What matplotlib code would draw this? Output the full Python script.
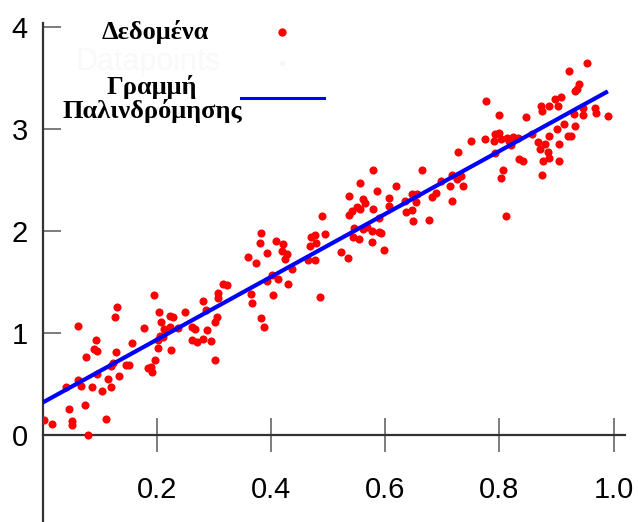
import numpy as np
import matplotlib
matplotlib.use('Agg')
from matplotlib import pyplot as plt

# scatter points
x = [0.129, 0.127, 0.062, 0.093, 0.156, 0.090, 0.095, 0.128, 0.076, 0.120,
     0.122, 0.145, 0.151, 0.062, 0.095, 0.114, 0.134, 0.066, 0.041, 0.085,
     0.120, 0.103, 0.046, 0.074, 0.002, 0.016, 0.050, 0.051, 0.110, 0.078,
     0.194, 0.316, 0.322, 0.307, 0.306, 0.280, 0.204, 0.248, 0.285, 0.222,
     0.227, 0.305, 0.301, 0.207, 0.177, 0.212, 0.222, 0.237, 0.262, 0.267,
     0.287, 0.205, 0.210, 0.201, 0.262, 0.270, 0.281, 0.294, 0.201, 0.224,
     0.196, 0.301, 0.184, 0.189, 0.191,
     0.489, 0.382, 0.469, 0.477, 0.494, 0.380, 0.408, 0.420, 0.478, 0.468,
     0.392, 0.419, 0.427, 0.360, 0.424, 0.465, 0.477, 0.374, 0.436, 0.401,
     0.392, 0.412, 0.430, 0.364, 0.367, 0.403, 0.486, 0.382, 0.388,
     0.579, 0.664, 0.556, 0.619, 0.586, 0.536, 0.560, 0.564, 0.606, 0.647,
     0.656, 0.634, 0.653, 0.607, 0.551, 0.556, 0.579, 0.542, 0.537, 0.637,
     0.646, 0.588, 0.649, 0.545, 0.560, 0.567, 0.577, 0.588, 0.593, 0.543,
     0.553, 0.577, 0.523, 0.534, 0.598,
     0.777, 0.800, 0.792, 0.799, 0.750, 0.774, 0.791, 0.802, 0.813, 0.816,
     0.824, 0.832, 0.820, 0.793, 0.728, 0.834, 0.807, 0.803, 0.716, 0.733,
     0.726, 0.698, 0.714, 0.736, 0.688, 0.681, 0.716, 0.811, 0.677,
     0.953, 0.921, 0.939, 0.935, 0.933, 0.897, 0.907, 0.873, 0.887, 0.902,
     0.874, 0.946, 0.968, 0.970, 0.947, 0.930, 0.991, 0.846, 0.913, 0.900,
     0.933, 0.857, 0.887, 0.920, 0.926, 0.867, 0.879, 0.905, 0.871, 0.885,
     0.887, 0.841, 0.877, 0.905, 0.874]
y = [1.258, 1.157, 1.065, 0.935, 0.899, 0.840, 0.824, 0.817, 0.768, 0.676,
     0.703, 0.690, 0.690, 0.539, 0.598, 0.552, 0.575, 0.480, 0.467, 0.474,
     0.474, 0.435, 0.255, 0.291, 0.147, 0.108, 0.134, 0.095, 0.160, 0.003,
     1.373, 1.483, 1.474, 1.395, 1.340, 1.314, 1.203, 1.203, 1.222, 1.170,
     1.154, 1.160, 1.111, 1.111, 1.049, 1.039, 1.059, 1.046, 1.059, 1.039,
     1.032, 0.974, 0.964, 0.931, 0.931, 0.908, 0.937, 0.918, 0.850, 0.830,
     0.735, 0.732, 0.654, 0.663, 0.621,
     2.150, 1.983, 1.944, 1.964, 1.967, 1.879, 1.899, 1.873, 1.886, 1.853,
     1.781, 1.807, 1.772, 1.748, 1.722, 1.716, 1.716, 1.689, 1.630, 1.566,
     1.513, 1.526, 1.483, 1.379, 1.297, 1.373, 1.353, 1.147, 1.056,
     2.595, 2.601, 2.471, 2.441, 2.395, 2.340, 2.314, 2.278, 2.324, 2.363,
     2.363, 2.297, 2.288, 2.248, 2.239, 2.216, 2.219, 2.193, 2.154, 2.186,
     2.209, 2.127, 2.095, 2.029, 2.016, 2.036, 2.003, 1.990, 1.980, 1.938,
     1.918, 1.895, 1.794, 1.739, 1.811,
     3.278, 3.140, 2.951, 2.964, 2.886, 2.902, 2.879, 2.899, 2.912, 2.886,
     2.918, 2.912, 2.840, 2.761, 2.775, 2.703, 2.598, 2.516, 2.552, 2.539,
     2.513, 2.493, 2.444, 2.441, 2.376, 2.337, 2.297, 2.147, 2.108,
     3.650, 3.565, 3.441, 3.389, 3.376, 3.291, 3.310, 3.229, 3.225, 3.225,
     3.176, 3.203, 3.203, 3.154, 3.134, 3.144, 3.127, 3.118, 3.049, 3.003,
     3.033, 2.951, 2.931, 2.934, 2.934, 2.873, 2.853, 2.856, 2.807, 2.775,
     2.716, 2.683, 2.683, 2.686, 2.552]

# regression line end points
fit_x = [0.0, 0.99]
fit_y = [0.32, 3.37]

xticks = [0.2, 0.4, 0.6, 0.8, 1.0]
yticks = [0, 1, 2, 3, 4]

fig = plt.figure(figsize=(6.38, 5.22), dpi=100)
ax = fig.add_axes([43/638, 0, 582/638, 499/522])
ax.scatter(x, y, s=34, color='#ff0000', linewidths=0, zorder=3)
ax.plot(fit_x, fit_y, color='#0000ff', lw=3, zorder=4, solid_capstyle='butt')

ax.set_xlim(0, 1.02)
ax.set_ylim(-0.853, 4.04)
for s in ['top', 'right']:
    ax.spines[s].set_visible(False)
ax.spines['bottom'].set_position(('data', 0))
for s in ['left', 'bottom']:
    ax.spines[s].set_color('#333333')
    ax.spines[s].set_linewidth(1.6)

ax.set_xticks(xticks)
ax.set_xticklabels(['%.1f' % v for v in xticks])
ax.set_yticks(yticks)
ax.tick_params(axis='x', direction='inout', length=24.5, width=1.2, color='#666666',
               pad=17, labelsize=21)
ax.tick_params(axis='y', direction='in', length=13, width=1.2, color='#666666',
               pad=11, labelsize=21)
for lab in ax.get_xticklabels() + ax.get_yticklabels():
    lab.set_family('Liberation Sans')

# legend drawn by hand to keep the centred layout
lf = dict(family='Liberation Serif', weight='bold', fontsize=19, ha='center')
fig.text(155/638, 1 - 39/522, 'Δεδομένα', va='baseline', **lf)
fig.text(148/638, 1 - 70/522, 'Datapoints', va='baseline', color='#f9f9f9',
         family='Liberation Sans', fontsize=22, ha='center')
fig.add_artist(plt.Line2D([282/638], [1 - 32/522], marker='o', ms=6,
                          color='#ff0000', mew=0, ls=''))
fig.add_artist(plt.Line2D([282/638], [1 - 63/522], marker='o', ms=4,
                          color='#f6f6f6', mew=0, ls=''))
t = fig.text(152/638, 1 - 99/522, 'Γραμμή\nΠαλινδρόμησης', va='center',
             linespacing=1.0, **lf)
t.set_multialignment('center')
fig.add_artist(plt.Line2D([241/638, 324/638], [1 - 98/522, 1 - 98/522],
                          color='#0000ff', lw=2.2))

fig.savefig('out.png', dpi=100)
